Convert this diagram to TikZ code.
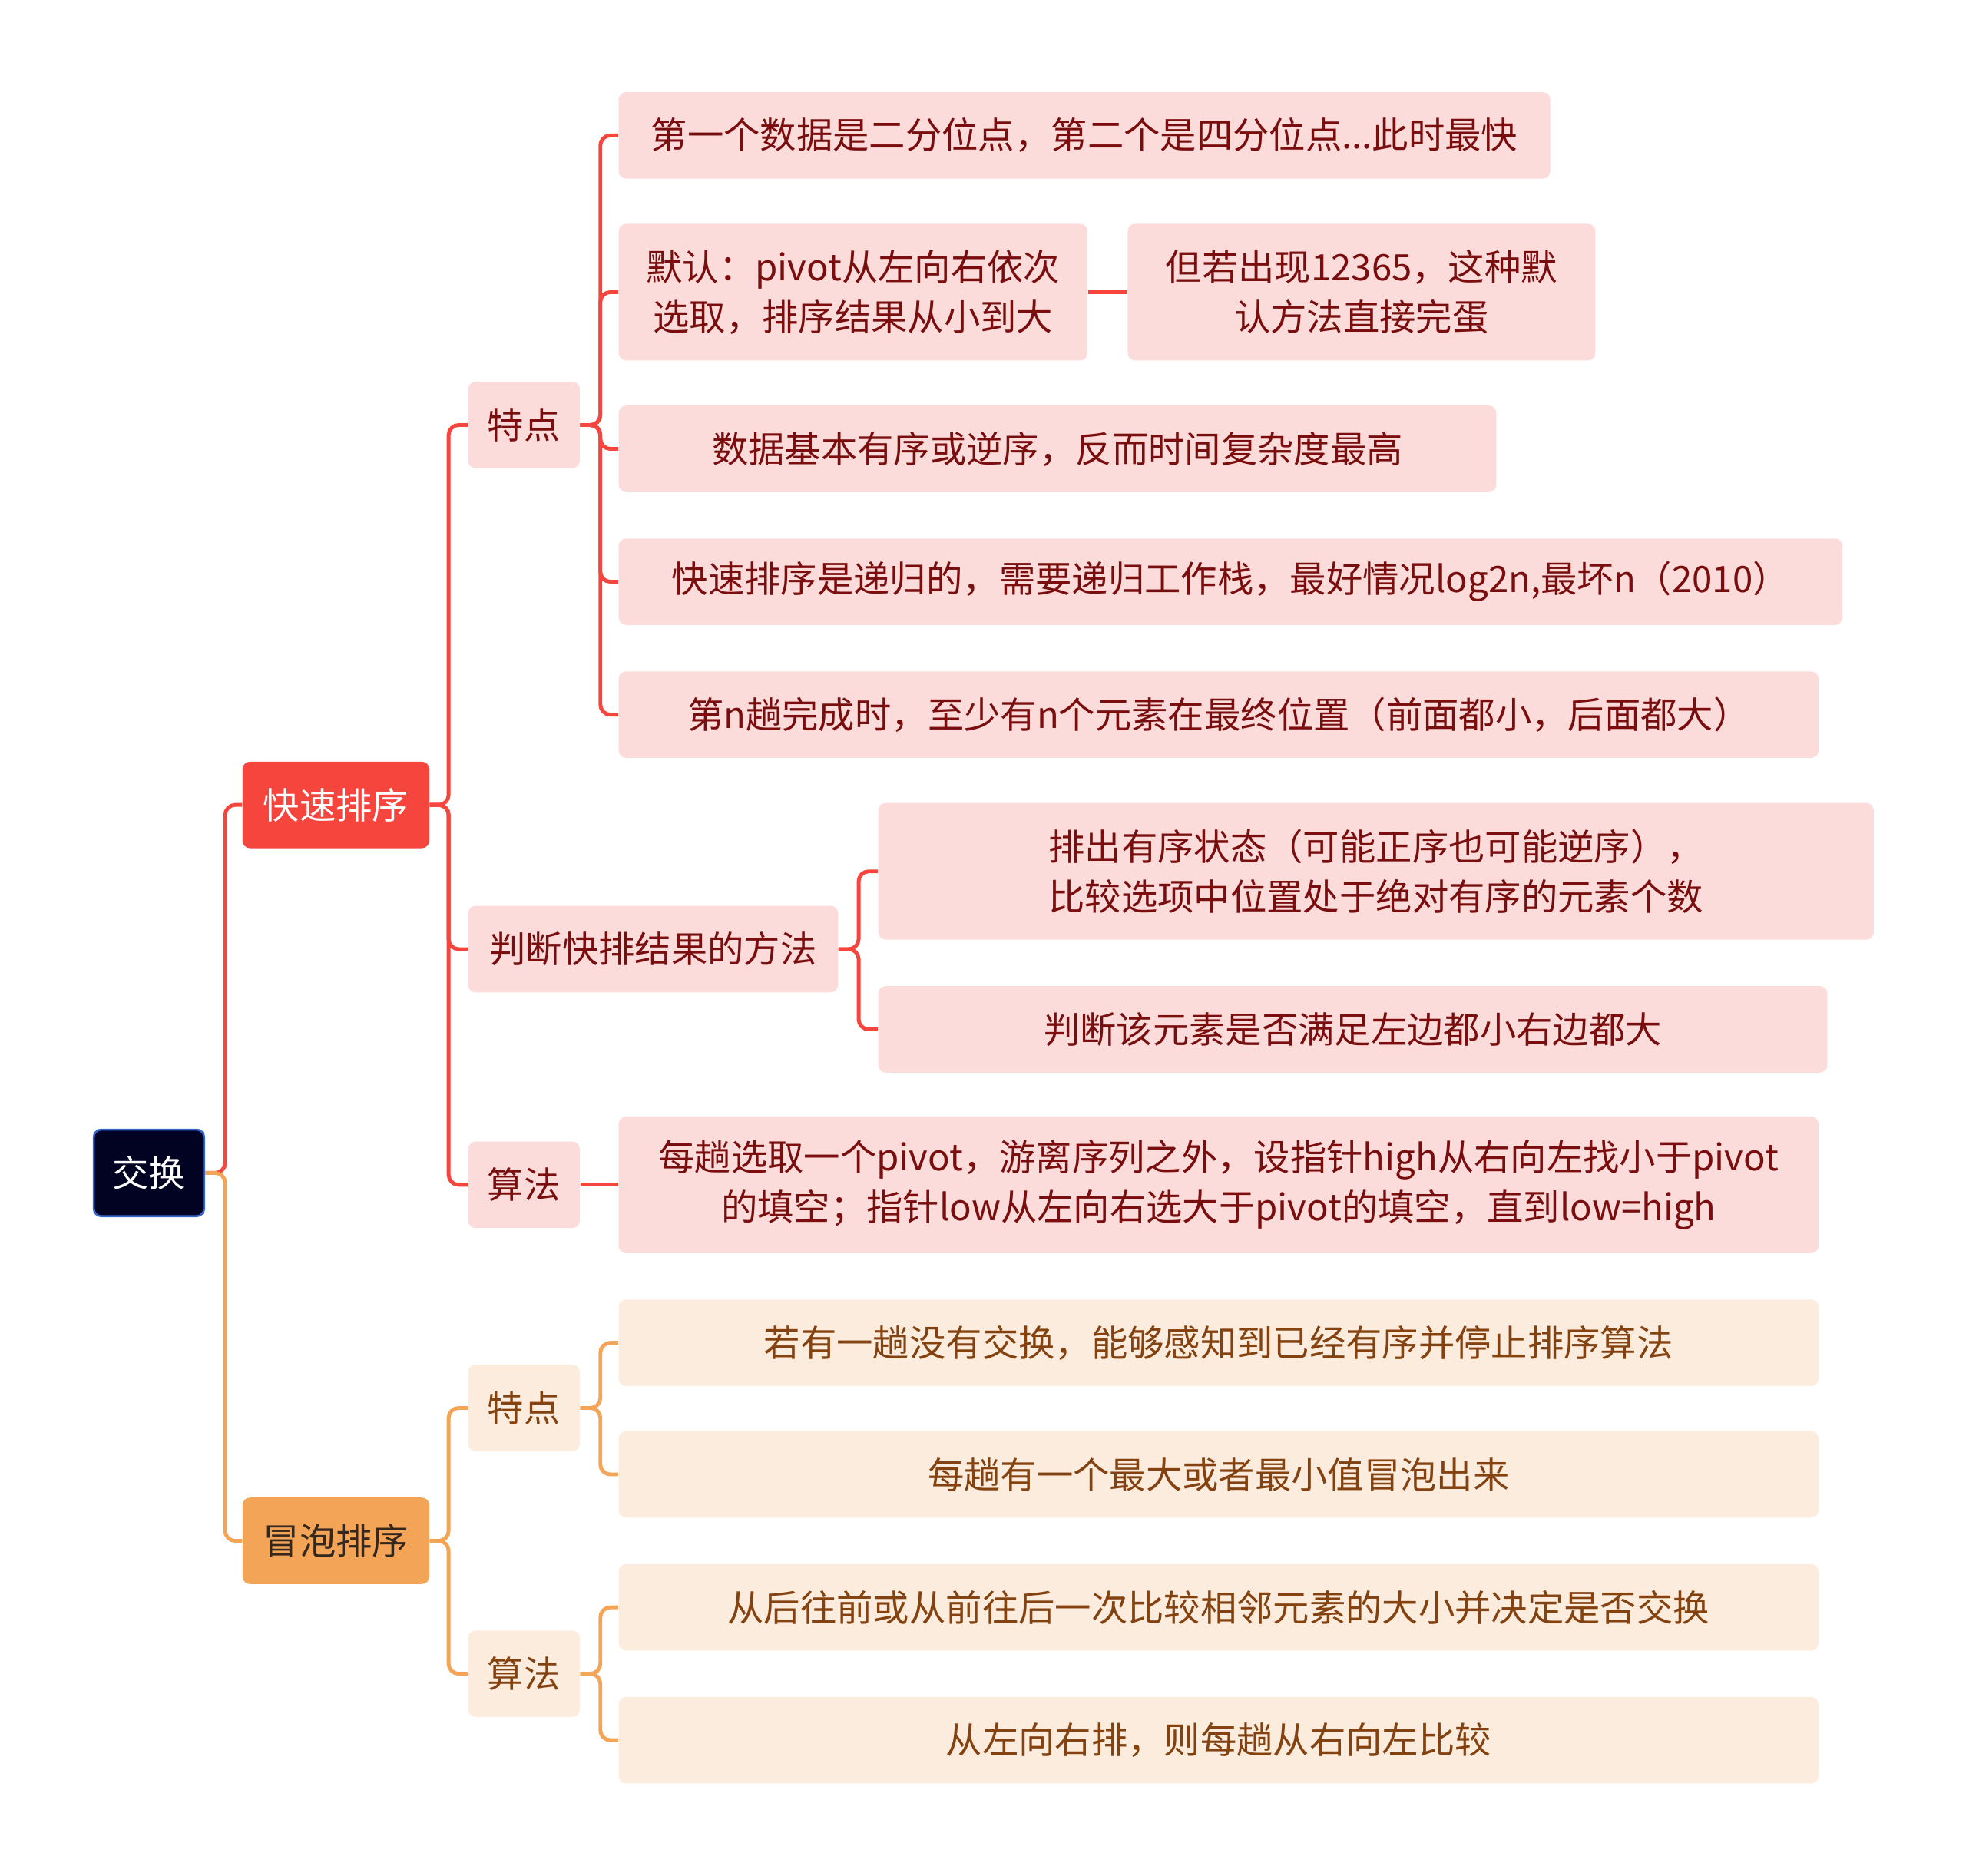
\documentclass[tikz,border=0pt]{standalone}
\usepackage{fontspec}
\setmainfont{Noto Sans CJK SC}
\usepackage{tikz}
\usetikzlibrary{positioning}
\definecolor{QuickRed}{RGB}{245, 69, 61}
\definecolor{BubbleOrange}{RGB}{244, 164, 86}
\definecolor{BubbleText}{RGB}{52, 40, 30}
\definecolor{RootNavy}{RGB}{2, 2, 34}
\definecolor{RootBlue}{RGB}{52, 102, 204}
\definecolor{PinkFill}{RGB}{252, 219, 219}
\definecolor{PinkText}{RGB}{122, 14, 14}
\definecolor{PeachFill}{RGB}{252, 236, 222}
\definecolor{PeachText}{RGB}{132, 66, 16}
\tikzset{
  box/.style={anchor=west, rounded corners=3pt, inner sep=0pt, align=center,
    minimum height=34.5pt, font=\fontsize{14.5}{20}\selectfont},
  rootbox/.style={box, fill=RootNavy, draw=RootBlue, line width=0.8pt, text=white},
  quickbox/.style={box, fill=QuickRed, text=white},
  bubblebox/.style={box, fill=BubbleOrange, text=BubbleText},
  pinkbox/.style={box, fill=PinkFill, text=PinkText},
  peachbox/.style={box, fill=PeachFill, text=PeachText},
  tall/.style={minimum height=54.5pt},
  redline/.style={draw=QuickRed, line width=1.5pt, rounded corners=4pt},
  orangeline/.style={draw=BubbleOrange, line width=1.5pt, rounded corners=4pt}
}

\begin{document}
\begin{tikzpicture}[x=0.5pt, y=-0.5pt]
    \useasboundingbox (0,0) rectangle (1568,1496);

    % root and main branches
    \node[rootbox, minimum width=44pt] (root) at (74,935.5) {交换};
    \node[quickbox, minimum width=74.5pt] (quick) at (193,642) {快速排序};
    \node[bubblebox, minimum width=74.5pt] (bubble) at (193,1229) {冒泡排序};

    % quick sort
    \node[pinkbox, minimum width=44.5pt] (qa) at (373,339) {特点};
    \node[pinkbox, minimum width=147.5pt] (qb) at (373,757) {判断快排结果的方法};
    \node[pinkbox, minimum width=44.5pt] (qc) at (373,945) {算法};

    \node[pinkbox, minimum width=371.5pt] (qa1) at (493,108) {第一个数据是二分位点，第二个是四分位点...此时最快};
    \node[pinkbox, tall, minimum width=187pt] (qa2) at (493,233) {默认：pivot从左向右依次\\选取，排序结果从小到大};
    \node[pinkbox, tall, minimum width=186.5pt] (qa2x) at (899,233) {但若出现12365，这种默\\认方法直接完蛋};
    \node[pinkbox, minimum width=350pt] (qa3) at (493,358) {数据基本有序或逆序，反而时间复杂度最高};
    \node[pinkbox, minimum width=488pt] (qa4) at (493,464) {快速排序是递归的，需要递归工作栈，最好情况log2n,最坏n（2010）};
    \node[pinkbox, minimum width=478.5pt] (qa5) at (493,570) {第n趟完成时，至少有n个元素在最终位置（前面都小，后面都大）};

    \node[pinkbox, tall, minimum width=397pt] (qb1) at (700,695) {排出有序状态（可能正序也可能逆序），\\比较选项中位置处于绝对有序的元素个数};
    \node[pinkbox, minimum width=378.5pt] (qb2) at (700,821) {判断该元素是否满足左边都小右边都大};

    \node[pinkbox, tall, minimum width=478.5pt] (qc1) at (493,945) {每趟选取一个pivot，游离序列之外，设指针high从右向左找小于pivot\\的填空；指针low从左向右选大于pivot的填空，直到low=high};

    % bubble sort
    \node[peachbox, minimum width=44.5pt] (ba) at (373,1123) {特点};
    \node[peachbox, minimum width=44.5pt] (bb) at (373,1335) {算法};
    \node[peachbox, minimum width=478.5pt] (ba1) at (493,1071) {若有一趟没有交换，能够感知到已经有序并停止排序算法};
    \node[peachbox, minimum width=478.5pt] (ba2) at (493,1176) {每趟有一个最大或者最小值冒泡出来};
    \node[peachbox, minimum width=478.5pt] (bb1) at (493,1282) {从后往前或从前往后一次比较相邻元素的大小并决定是否交换};
    \node[peachbox, minimum width=478.5pt] (bb2) at (493,1388) {从左向右排，则每趟从右向左比较};

    % connectors
    \draw[redline] (root.east) -- ++(16,0) |- (quick.west);
    \draw[orangeline] (root.east) -- ++(16,0) |- (bubble.west);
    \foreach \c in {qa,qb,qc} {
      \draw[redline] (quick.east) -- ++(15,0) |- (\c.west);
    }
    \foreach \c in {qa1,qa2,qa3,qa4,qa5} {
      \draw[redline] (qa.east) -- ++(16,0) |- (\c.west);
    }
    \draw[redline] (qa2.east) -- (qa2x.west);
    \foreach \c in {qb1,qb2} {
      \draw[redline] (qb.east) -- ++(16,0) |- (\c.west);
    }
    \draw[redline] (qc.east) -- (qc1.west);
    \foreach \c in {ba,bb} {
      \draw[orangeline] (bubble.east) -- ++(15,0) |- (\c.west);
    }
    \foreach \c in {ba1,ba2} {
      \draw[orangeline] (ba.east) -- ++(16,0) |- (\c.west);
    }
    \foreach \c in {bb1,bb2} {
      \draw[orangeline] (bb.east) -- ++(16,0) |- (\c.west);
    }
\end{tikzpicture}
\end{document}
